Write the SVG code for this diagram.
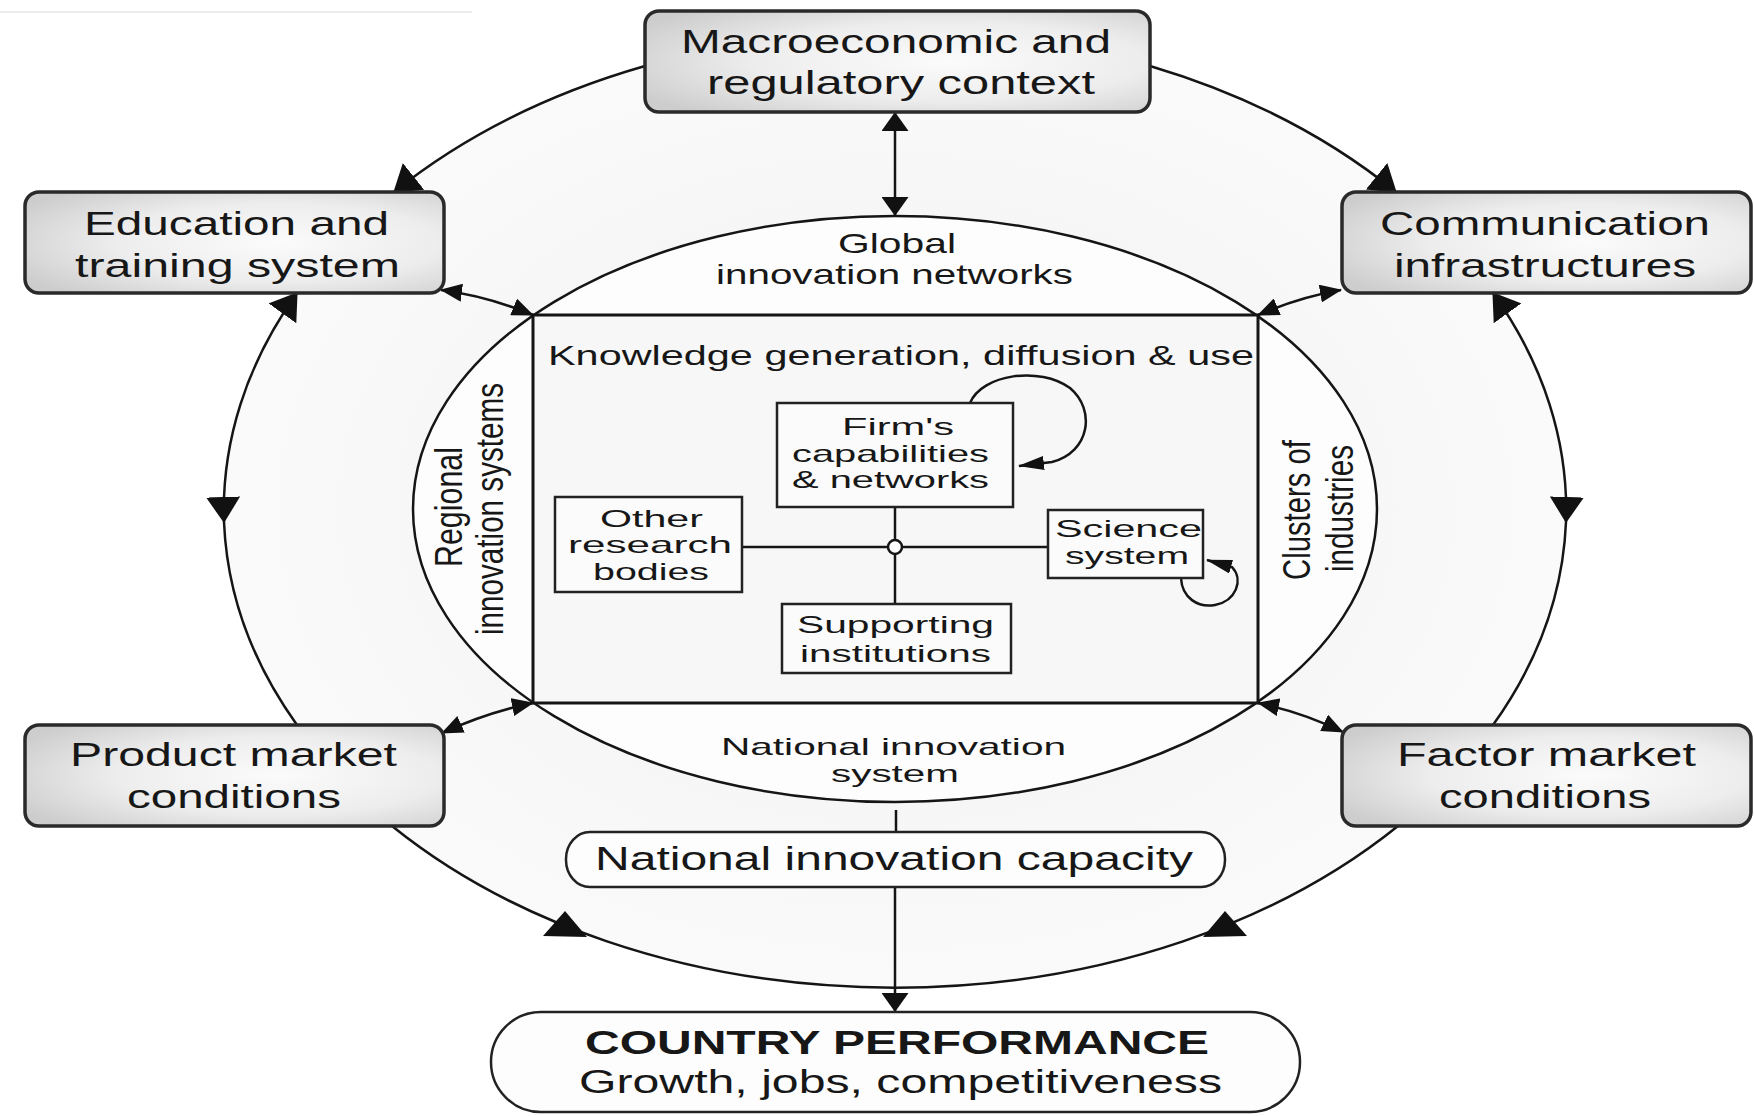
<svg xmlns="http://www.w3.org/2000/svg" width="1754" height="1116" viewBox="0 0 1754 1116">
  <defs>
    <radialGradient id="boxFill" cx="0.6" cy="0.5" r="0.7">
      <stop offset="0" stop-color="#fbfbfb"/>
      <stop offset="0.55" stop-color="#ededed"/>
      <stop offset="1" stop-color="#cdcdcd"/>
    </radialGradient>
    <radialGradient id="ringFill" cx="0.5" cy="0.5" r="0.5">
      <stop offset="0" stop-color="#f0f0f0"/>
      <stop offset="1" stop-color="#fafafa"/>
    </radialGradient>
    <marker id="bigHead" viewBox="0 0 26 34" refX="25" refY="17" markerWidth="26" markerHeight="34" markerUnits="userSpaceOnUse" orient="auto-start-reverse">
      <path d="M0,0 L26,17 L0,34 Z" fill="#111"/>
    </marker>
    <marker id="midHead" viewBox="0 0 19 27" refX="18" refY="13.5" markerWidth="19" markerHeight="27" markerUnits="userSpaceOnUse" orient="auto-start-reverse">
      <path d="M0,0 L19,13.5 L0,27 Z" fill="#111"/>
    </marker>
    <marker id="smallHead" viewBox="0 0 22 18" refX="21" refY="9" markerWidth="22" markerHeight="18" markerUnits="userSpaceOnUse" orient="auto-start-reverse">
      <path d="M0,0 L22,9 L0,18 Z" fill="#111"/>
    </marker>
    <marker id="loopHead" viewBox="0 0 26 14" refX="25" refY="7" markerWidth="26" markerHeight="14" markerUnits="userSpaceOnUse" orient="auto">
      <path d="M0,0 L26,7 L0,14 Z" fill="#111"/>
    </marker>
  </defs>
  <style>
    .box{fill:url(#boxFill);stroke:#2a2a2a;stroke-width:3.5}
    .inner{fill:#fbfbfb;stroke:#222;stroke-width:2.5}
    .pill{fill:#fdfdfd;stroke:#222;stroke-width:2.5}
    .line{fill:none;stroke:#151515;stroke-width:2.5}
    .head{fill:#111;stroke:none}
    .lbl{font-family:"Liberation Sans",Arial,Helvetica,sans-serif;fill:#171717}
    .big{font-size:34px}
    .mid{font-size:28px}
    .tight{font-size:24px}
    .sm{font-size:24px}
    .rot{font-size:27px}
    .bold{font-weight:bold}
  </style>

  <!-- page -->
  <rect x="0" y="0" width="1754" height="1116" fill="#ffffff"/>
  <line x1="0" y1="12" x2="472" y2="12" stroke="#ececec" stroke-width="2"/>
  <ellipse cx="895" cy="510" rx="671" ry="478" fill="url(#ringFill)"/>

  <!-- national innovation system: ellipse around the knowledge square -->
  <g id="nis">
    <ellipse cx="895" cy="509" rx="482" ry="293" fill="#fdfdfd" stroke="#151515" stroke-width="2.5"/>
    <text class="lbl mid" x="838" y="253" textLength="118" lengthAdjust="spacingAndGlyphs">Global</text>
    <text class="lbl mid" x="716" y="284" textLength="357" lengthAdjust="spacingAndGlyphs">innovation networks</text>
    <text class="lbl tight" x="721" y="755" textLength="345" lengthAdjust="spacingAndGlyphs">National innovation</text>
    <text class="lbl tight" x="831" y="782" textLength="128" lengthAdjust="spacingAndGlyphs">system</text>
    <text class="lbl rot" transform="translate(462,567) scale(1.41,1) rotate(-90)" textLength="120" lengthAdjust="spacingAndGlyphs">Regional</text>
    <text class="lbl rot" transform="translate(503,635) scale(1.41,1) rotate(-90)" textLength="252" lengthAdjust="spacingAndGlyphs">innovation systems</text>
    <text class="lbl rot" transform="translate(1310,580) scale(1.41,1) rotate(-90)" textLength="140" lengthAdjust="spacingAndGlyphs">Clusters of</text>
    <text class="lbl rot" transform="translate(1353,572) scale(1.41,1) rotate(-90)" textLength="127" lengthAdjust="spacingAndGlyphs">industries</text>
  </g>

  <!-- knowledge generation square -->
  <g id="knowledge">
    <rect x="533" y="315" width="725" height="388" fill="#f7f7f7" stroke="#151515" stroke-width="3"/>
    <text class="lbl mid" x="548" y="365" textLength="706" lengthAdjust="spacingAndGlyphs">Knowledge generation, diffusion &amp; use</text>
  </g>

  <!-- connectors -->
  <g id="connectors">
    <!-- outer ring -->
    <path class="line" d="M645 66 A671 478 0 0 0 394 192" marker-end="url(#bigHead)"/>
    <path class="line" d="M1150 66 A671 478 0 0 1 1396 192" marker-end="url(#bigHead)"/>
    <path class="line" d="M297 293 A671 478 0 0 0 224 522" marker-start="url(#bigHead)" marker-end="url(#bigHead)"/>
    <path class="line" d="M224 522 A671 478 0 0 0 297 725"/>
    <path class="line" d="M1493 293 A671 478 0 0 1 1566 522" marker-start="url(#bigHead)" marker-end="url(#bigHead)"/>
    <path class="line" d="M1566 522 A671 478 0 0 1 1493 725"/>
    <path class="line" d="M392 826 A671 478 0 0 0 1398 826"/>
    <polygon class="head" points="565,911 543,936 587,937"/>
    <polygon class="head" points="1225,911 1203,937 1247,936"/>
    <!-- corner links -->
    <path class="line" d="M441 290 Q487 296 533 315" marker-start="url(#smallHead)" marker-end="url(#smallHead)"/>
    <path class="line" d="M1341 290 Q1300 297 1258 315" marker-start="url(#smallHead)" marker-end="url(#smallHead)"/>
    <path class="line" d="M442 733 Q488 712 533 703" marker-start="url(#smallHead)" marker-end="url(#smallHead)"/>
    <path class="line" d="M1258 703 Q1302 712 1343 732" marker-start="url(#smallHead)" marker-end="url(#smallHead)"/>
    <!-- vertical links -->
    <path class="line" d="M895 113 L895 215" marker-start="url(#midHead)" marker-end="url(#midHead)"/>
    <path class="line" d="M896 810 L896 832"/>
    <path class="line" d="M895 887 L895 1011" marker-end="url(#midHead)"/>
    <!-- cross inside the square -->
    <path class="line" d="M895 507 L895 604"/>
    <path class="line" d="M742 547 L1048 547"/>
    <circle cx="895" cy="547" r="7" fill="#ffffff" stroke="#151515" stroke-width="2.5"/>
    <!-- self loops -->
    <path class="line" d="M970 403 C982 374 1040 366 1070 388 C1096 410 1090 452 1052 462 L1019 466" marker-end="url(#loopHead)"/>
    <path class="line" d="M1181 578 C1182 598 1198 608 1215 605 C1236 601 1244 580 1232 567 L1207 560" marker-end="url(#loopHead)"/>
  </g>

  <g id="macro">
    <rect class="box" x="645" y="11" width="505" height="101" rx="14"/>
    <text class="lbl big" x="681" y="53" textLength="430" lengthAdjust="spacingAndGlyphs">Macroeconomic and</text>
    <text class="lbl big" x="707" y="94" textLength="388" lengthAdjust="spacingAndGlyphs">regulatory context</text>
  </g>

  <g id="education">
    <rect class="box" x="25" y="192" width="419" height="101" rx="14"/>
    <text class="lbl big" x="84" y="235" textLength="305" lengthAdjust="spacingAndGlyphs">Education and</text>
    <text class="lbl big" x="75" y="277" textLength="325" lengthAdjust="spacingAndGlyphs">training system</text>
  </g>

  <g id="communication">
    <rect class="box" x="1342" y="192" width="409" height="101" rx="14"/>
    <text class="lbl big" x="1380" y="235" textLength="330" lengthAdjust="spacingAndGlyphs">Communication</text>
    <text class="lbl big" x="1394" y="277" textLength="302" lengthAdjust="spacingAndGlyphs">infrastructures</text>
  </g>

  <g id="product">
    <rect class="box" x="25" y="725" width="419" height="101" rx="14"/>
    <text class="lbl big" x="70" y="766" textLength="327" lengthAdjust="spacingAndGlyphs">Product market</text>
    <text class="lbl big" x="127" y="808" textLength="214" lengthAdjust="spacingAndGlyphs">conditions</text>
  </g>

  <g id="factor">
    <rect class="box" x="1342" y="725" width="409" height="101" rx="14"/>
    <text class="lbl big" x="1397" y="766" textLength="299" lengthAdjust="spacingAndGlyphs">Factor market</text>
    <text class="lbl big" x="1439" y="808" textLength="212" lengthAdjust="spacingAndGlyphs">conditions</text>
  </g>

  <g id="firms">
    <rect class="inner" x="777" y="403" width="236" height="104"/>
    <text class="lbl sm" x="842" y="435" textLength="112" lengthAdjust="spacingAndGlyphs">Firm's</text>
    <text class="lbl sm" x="792" y="462" textLength="197" lengthAdjust="spacingAndGlyphs">capabilities</text>
    <text class="lbl sm" x="792" y="488" textLength="197" lengthAdjust="spacingAndGlyphs">&amp; networks</text>
  </g>

  <g id="other-research">
    <rect class="inner" x="555" y="497" width="187" height="95"/>
    <text class="lbl sm" x="600" y="527" textLength="103" lengthAdjust="spacingAndGlyphs">Other</text>
    <text class="lbl sm" x="568" y="553" textLength="164" lengthAdjust="spacingAndGlyphs">research</text>
    <text class="lbl sm" x="593" y="580" textLength="116" lengthAdjust="spacingAndGlyphs">bodies</text>
  </g>

  <g id="science">
    <rect class="inner" x="1048" y="510" width="155" height="68"/>
    <text class="lbl sm" x="1055" y="537" textLength="147" lengthAdjust="spacingAndGlyphs">Science</text>
    <text class="lbl sm" x="1065" y="564" textLength="124" lengthAdjust="spacingAndGlyphs">system</text>
  </g>

  <g id="supporting">
    <rect class="inner" x="782" y="604" width="229" height="69"/>
    <text class="lbl sm" x="797" y="633" textLength="197" lengthAdjust="spacingAndGlyphs">Supporting</text>
    <text class="lbl sm" x="800" y="662" textLength="191" lengthAdjust="spacingAndGlyphs">institutions</text>
  </g>

  <g id="capacity">
    <rect class="pill" x="566" y="832" width="659" height="55" rx="24" ry="27"/>
    <text class="lbl big" x="595" y="870" textLength="598" lengthAdjust="spacingAndGlyphs">National innovation capacity</text>
  </g>

  <g id="performance">
    <rect class="pill" x="491" y="1012" width="809" height="100" rx="50" ry="50"/>
    <text class="lbl big bold" x="585" y="1054" textLength="624" lengthAdjust="spacingAndGlyphs">COUNTRY PERFORMANCE</text>
    <text class="lbl big" x="579" y="1093" textLength="643" lengthAdjust="spacingAndGlyphs">Growth, jobs, competitiveness</text>
  </g>
</svg>
